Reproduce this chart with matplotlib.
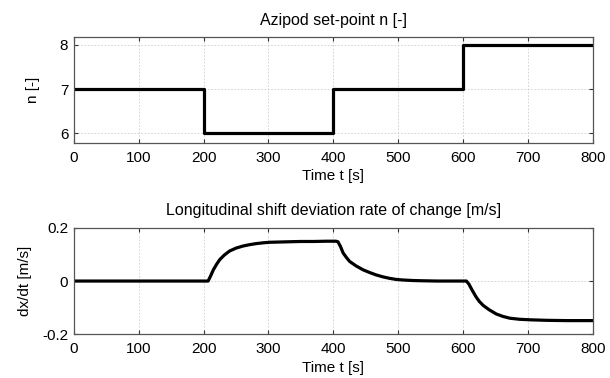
import numpy as np
import matplotlib
matplotlib.use("Agg")
import matplotlib.pyplot as plt

plt.rcParams["font.family"] = ["Liberation Sans", "DejaVu Sans"]
plt.rcParams["font.size"] = 11

# ----------------------------------------------------------------------
# Data
# ----------------------------------------------------------------------

# azipod set-point (step signal)
step_t = [0, 200, 400, 600, 800]
step_n = [7, 6, 7, 8, 8]

# longitudinal shift deviation rate of change
rate_t = [0, 100, 200, 207, 211, 215, 220, 225, 232, 240, 250, 261, 271, 281,
          292, 302, 318, 333, 350, 370, 390, 404,
          407, 411, 415, 420, 425, 435, 446, 456, 466, 476, 487, 497, 507,
          522, 538, 560, 605,
          609, 614, 620, 625, 631, 640, 651, 661, 672, 687, 703, 730, 760, 800]
rate_v = [0.0, 0.0, 0.0, 0.0, 0.020, 0.042, 0.063, 0.081, 0.098, 0.113, 0.124, 0.132,
          0.137, 0.141, 0.144, 0.146, 0.147, 0.148, 0.149, 0.149, 0.150, 0.150,
          0.148, 0.130, 0.106, 0.089, 0.074, 0.057, 0.042, 0.032, 0.023, 0.016,
          0.010, 0.006, 0.004, 0.002, 0.001, 0.0, 0.0,
          -0.012, -0.035, -0.060, -0.077, -0.092, -0.108, -0.124, -0.133, -0.140,
          -0.144, -0.146, -0.148, -0.149, -0.149]

TIME_TICKS = [0, 100, 200, 300, 400, 500, 600, 700, 800]


def style_axes(ax):
    ax.set_xlim(0, 800)
    ax.set_xticks(TIME_TICKS)
    ax.tick_params(direction="in", top=True, right=True, length=3,
                   color="#333333", labelsize=11)
    ax.tick_params(axis="x", pad=6)
    ax.tick_params(axis="y", pad=4)
    ax.grid(True, color="#cccccc", linestyle=(0, (2, 2)), linewidth=0.6)
    for s in ax.spines.values():
        s.set_color("#555555")
        s.set_linewidth(0.9)
    ax.set_xlabel("Time t [s]", fontsize=11, labelpad=3)


fig = plt.figure(figsize=(6.1, 3.78), dpi=100)
ax1 = fig.add_axes([0.121, 0.622, 0.851, 0.280])
ax2 = fig.add_axes([0.121, 0.116, 0.851, 0.281])

ax1.step(step_t, step_n, where="post", color="black", linewidth=2.3)
style_axes(ax1)
ax1.set_ylim(5.78, 8.18)
ax1.set_yticks([6, 7, 8])
ax1.set_ylabel("n [-]", fontsize=11, labelpad=14)
ax1.set_title("Azipod set-point n [-]", fontsize=11.5, pad=9)

ax2.plot(rate_t, rate_v, color="black", linewidth=2.3,
         solid_joinstyle="round")
style_axes(ax2)
ax2.set_ylim(-0.2, 0.2)
ax2.set_yticks([-0.2, 0, 0.2])
ax2.set_yticklabels(["-0.2", "0", "0.2"])
ax2.set_ylabel("dx/dt [m/s]", fontsize=11, labelpad=7)
ax2.set_title("Longitudinal shift deviation rate of change [m/s]", fontsize=11.5, pad=9)

fig.savefig("out.png", dpi=100)
